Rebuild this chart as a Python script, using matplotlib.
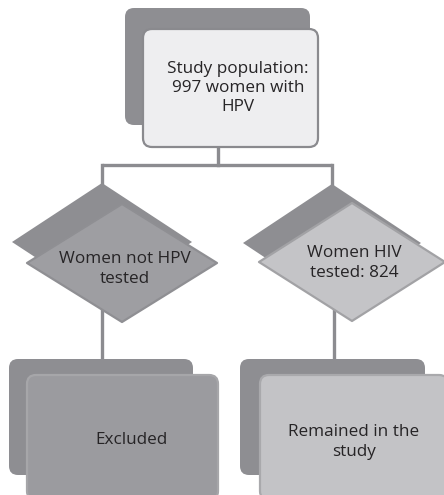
import matplotlib
matplotlib.use("Agg")
import matplotlib.pyplot as plt
from matplotlib.patches import FancyBboxPatch, Polygon

# texts of the flow chart
top_label = "Study population:\n997 women with\nHPV"
mid_labels = ["Women not HPV\ntested", "Women HIV\ntested: 824"]
bottom_labels = ["Excluded", "Remained in the\nstudy"]

back_grey = "#8e8e92"
line_grey = "#8c8c90"
mid_fill = ["#9e9ea2", "#c4c4c7"]
mid_edge = ["#8f8f93", "#a2a2a5"]
bot_fill = ["#9b9b9f", "#c3c3c6"]
bot_edge = ["#a6a6a9", "#a9a9ac"]
text_col = "#262426"

plt.rcParams['font.family'] = ['Open Sans', 'DejaVu Sans']

fig = plt.figure(figsize=(4.44, 4.95), dpi=100)
ax = fig.add_axes([0, 0, 1, 1])
ax.set_xlim(0, 444)
ax.set_ylim(495, 0)
ax.axis('off')


def rbox(x0, y0, x1, y1, fc, ec=None, lw=0, r=9, z=1):
    p = FancyBboxPatch((x0 + r, y0 + r), x1 - x0 - 2 * r, y1 - y0 - 2 * r,
                       boxstyle="round,pad=%d" % r, fc=fc,
                       ec=ec if ec else fc, lw=lw, zorder=z)
    ax.add_patch(p)


def diamond(cx, cy, hw, hh, fc, ec=None, lw=0, z=1):
    p = Polygon([(cx, cy - hh), (cx + hw, cy), (cx, cy + hh), (cx - hw, cy)],
                closed=True, fc=fc, ec=ec if ec else fc, lw=lw, zorder=z,
                joinstyle='round')
    ax.add_patch(p)


# connectors
lw_line = 2.4
ax.plot([218, 218], [147, 165], color=line_grey, lw=lw_line, zorder=0)
ax.plot([102, 332], [165, 165], color=line_grey, lw=lw_line, zorder=0,
        solid_capstyle='butt')
ax.plot([102, 102], [165, 185], color=line_grey, lw=lw_line, zorder=0)
ax.plot([332, 332], [165, 187], color=line_grey, lw=lw_line, zorder=0)
ax.plot([102, 102], [300, 360], color=line_grey, lw=lw_line, zorder=0)
ax.plot([334, 334], [300, 360], color=line_grey, lw=lw_line, zorder=0)

fs = 12.3

# top box
rbox(125, 8, 310, 125, back_grey, z=1)
rbox(143, 29, 318, 147, "#eeeef0", ec="#8a8a8e", lw=1.6, z=2)
ax.text(238, 88, top_label, ha='center', va='center', fontsize=fs,
        color=text_col, linespacing=1.28, zorder=3)

# diamonds
diamond(102, 242, 90, 59, back_grey, z=1)
diamond(122, 263, 95, 59, mid_fill[0], ec=mid_edge[0], lw=1.6, z=2)
diamond(332, 243, 89, 59, back_grey, z=1)
diamond(352, 262, 93, 59, mid_fill[1], ec=mid_edge[1], lw=1.6, z=2)
ax.text(125, 269, mid_labels[0], ha='center', va='center', fontsize=fs,
        color=text_col, linespacing=1.28, zorder=3)
ax.text(354, 263, mid_labels[1], ha='center', va='center', fontsize=fs,
        color=text_col, linespacing=1.28, zorder=3)

# bottom boxes
rbox(9, 359, 193, 475, back_grey, z=1)
rbox(27, 375, 218, 500, bot_fill[0], ec=bot_edge[0], lw=1.6, z=2)
rbox(240, 359, 425, 475, back_grey, z=1)
rbox(260, 375, 448, 500, bot_fill[1], ec=bot_edge[1], lw=1.6, z=2)
ax.text(131, 440, bottom_labels[0], ha='center', va='center', fontsize=fs,
        color=text_col, linespacing=1.28, zorder=3)
ax.text(354, 442, bottom_labels[1], ha='center', va='center', fontsize=fs,
        color=text_col, linespacing=1.28, zorder=3)

fig.savefig("out.png", dpi=100)
